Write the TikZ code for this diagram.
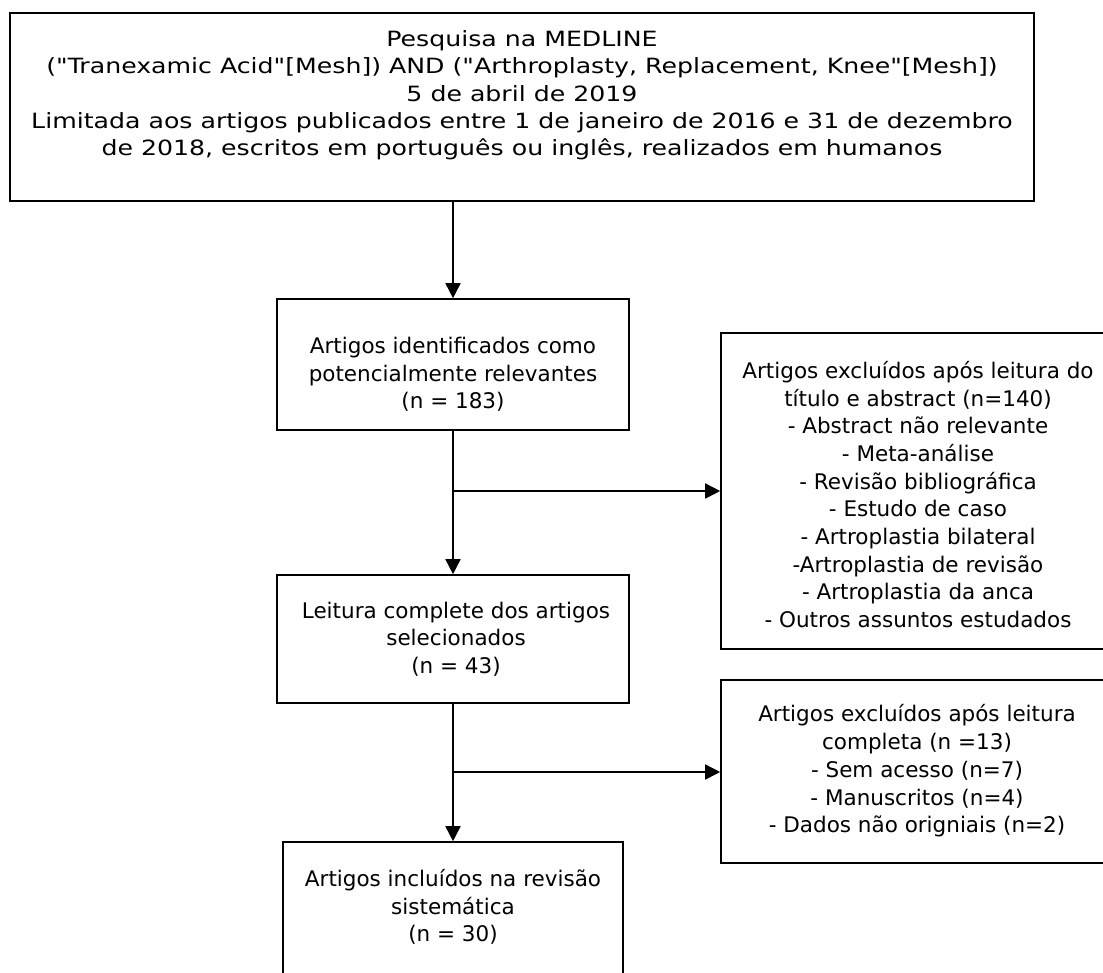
\documentclass[tikz,border=0pt]{standalone}
\usepackage{fontspec}
\setmainfont{DejaVu Sans}
\newfontfamily\widefont[FakeStretch=1.2]{DejaVu Sans}
\usetikzlibrary{arrows.meta}
\newcommand{\dq}{{\char34}}
\tikzset{
  box/.style={draw=black, line width=1.6pt, rectangle, inner sep=0pt},
  txt/.style={align=center, inner sep=0pt, font=\fontsize{21.5}{27.7}\selectfont},
  toptxt/.style={align=center, inner sep=0pt, font=\widefont\fontsize{21}{27.3}\selectfont},
  arr/.style={draw=black, line width=1.6pt, -{Triangle[length=15pt,width=15pt]}}
}
\begin{document}
\begin{tikzpicture}[x=1pt,y=-1pt]
\useasboundingbox (0,0) rectangle (1103,972);
\fill[white] (0,0) rectangle (1103,972);
% boxes
\node[box, minimum width=1024pt, minimum height=188pt] (b1) at (522,107) {};
\node[box, minimum width=352pt, minimum height=131pt] (b2) at (453,364.5) {};
\node[box, minimum width=389pt, minimum height=316pt] (b3) at (915.5,491) {};
\node[box, minimum width=352pt, minimum height=128pt] (b4) at (453,639) {};
\node[box, minimum width=389pt, minimum height=183pt] (b6) at (915.5,771.5) {};
\node[box, minimum width=340pt, minimum height=143pt] (b5) at (453,913.5) {};
% texts
\node[toptxt] (t1) at (522,95.5) {Pesquisa na MEDLINE\\
(\dq Tranexamic Acid\dq[Mesh]) AND (\dq Arthroplasty, Replacement, Knee\dq[Mesh])\\
5 de abril de 2019\\
Limitada aos artigos publicados entre 1 de janeiro de 2016 e 31 de dezembro\\
de 2018, escritos em português ou inglês, realizados em humanos};
\node[txt] (t2) at (453,374.5) {Artigos identificados como\\potencialmente relevantes\\(n = 183)};
\node[txt] (t3) at (918,494.5) {Artigos excluídos após leitura do\\título e abstract (n=140)\\- Abstract não relevante\\- Meta-análise\\- Revisão bibliográfica\\- Estudo de caso\\- Artroplastia bilateral\\-Artroplastia de revisão\\- Artroplastia da anca\\- Outros assuntos estudados};
\node[txt] (t4) at (456,639) {Leitura complete dos artigos\\selecionados\\(n = 43)};
\node[txt] (t6) at (917,771) {Artigos excluídos após leitura\\completa (n =13)\\- Sem acesso (n=7)\\- Manuscritos (n=4)\\- Dados não origniais (n=2)};
\node[txt] (t5) at (453,907) {Artigos incluídos na revisão\\sistemática\\(n = 30)};
% connectors
\coordinate (j1) at (453,491);
\coordinate (j2) at (453,772);
\draw[arr] (b1.south -| b2.north) -- (b2.north);
\draw[arr] (b2.south) -- (b4.north);
\draw[arr] (j1) -- (j1 -| b3.west);
\draw[arr] (b4.south) -- (b5.north);
\draw[arr] (j2) -- (j2 -| b6.west);
\end{tikzpicture}
\end{document}
